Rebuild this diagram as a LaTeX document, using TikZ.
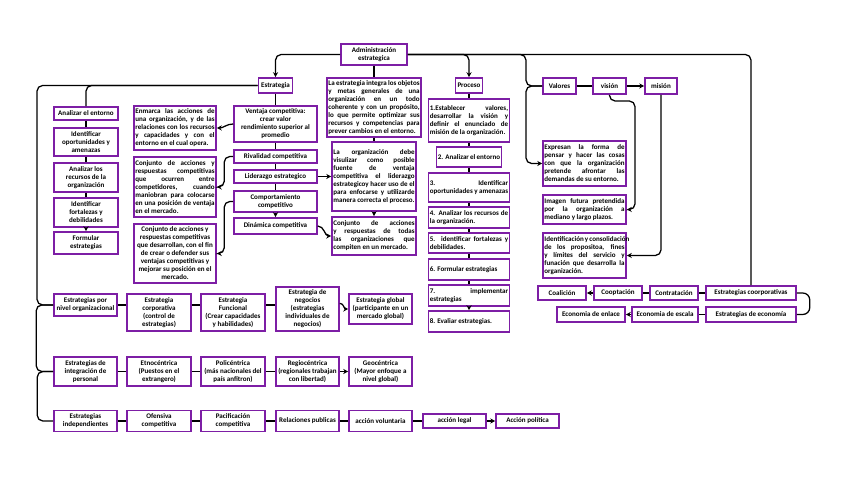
\documentclass[tikz,border=0pt]{standalone}
\usepackage{fontspec}
\setmainfont{Carlito}
\usetikzlibrary{arrows.meta,shadows}

\definecolor{boxpurple}{RGB}{125,30,165}
\newcommand{\mapfont}{\fontsize{5.0}{5.7}\selectfont\bfseries\hyphenpenalty=10000\tolerance=9999\emergencystretch=1em}

\tikzset{
    mapbox/.style={draw=boxpurple, line width=1.1pt, fill=white, inner sep=1pt,
        align=center, font=\mapfont,
        drop shadow={shadow xshift=0.6pt, shadow yshift=-0.6pt, opacity=0.25}},
    jbox/.style={mapbox, align=justify},
    boxsize/.style 2 args={minimum width=#1*0.025cm, minimum height=#2*0.025cm},
    wrapsize/.style 2 args={boxsize={#1}{#2}, text width=#1*0.025cm-2pt},
    link/.style={line width=0.9pt},
    arr/.style={link, -{Stealth[length=3.5pt, width=3.5pt]}},
}

\begin{document}
\begin{tikzpicture}[x=0.025cm, y=-0.025cm]
    \fill[white] (0,0) rectangle (848,477);
    \useasboundingbox (0,0) rectangle (848,477);

    % cabecera
    \node[mapbox, boxsize={66}{21}] (admin) at (374,54.5) {Administración\\estrategica};
    \node[jbox, wrapsize={94}{59}] (integra) at (374,107.5) {La estrategia integra los objetos y metas generales de una organización en un todo coherente y con un propósito, lo que permite optimizar sus recursos y competencias para prever cambios en el entorno.};
    \node[jbox, wrapsize={84}{69}] (visualizar) at (374,176.5) {La organización debe visulizar como posible fuente de ventaja competitiva el liderazgo estrategicoy hacer uso de el para enfocarse y utilizarde manera correcta el proceso.};
    \node[jbox, wrapsize={84}{38}] (todas) at (374,236) {Conjunto de acciones y respuestas de todas las organizaciones que compiten en un mercado.};

    % estrategia
    \node[mapbox, boxsize={34}{15}] (estrategia) at (275.5,85.5) {Estrategia};
    \node[mapbox, boxsize={83}{36}] (ventaja) at (275.5,124) {Ventaja competitiva:\\crear valor\\rendimiento superior al\\promedio};
    \node[mapbox, boxsize={83}{13}] (rivalidad) at (275.5,156.5) {Rivalidad competitiva};
    \node[mapbox, boxsize={83}{13}] (liderazgo) at (275.5,176.5) {Liderazgo estrategico};
    \node[mapbox, boxsize={83}{21}] (comport) at (275.5,201.5) {Comportamiento\\competitivo};
    \node[mapbox, boxsize={83}{16}] (dinamica) at (275.5,226) {Dinámica competitiva};

    \node[jbox, wrapsize={82}{44}] (enmarca) at (175,128) {Enmarca las acciones de una organización, y de las relaciones con los recursos y capacidades y con el entorno en el cual opera.};
    \node[jbox, wrapsize={82}{60}] (conj1) at (175,187) {Conjunto de acciones y respuestas competitivas que ocurren entre competidores, cuando maniobran para colocarse en una posición de ventaja en el mercado.};
    \node[mapbox, boxsize={82}{59}] (conj2) at (175,253.5) {Conjunto de acciones y\\respuestas competitivas\\que desarrollan, con el fin\\de crear o defender sus\\ventajas competitivas y\\mejorar su posición en el\\mercado.};

    \node[mapbox, boxsize={64}{13}] (aentorno) at (86,113.5) {Analizar el entorno};
    \node[mapbox, boxsize={64}{28}] (aoport) at (86,142) {Identificar\\oportunidades y\\amenazas};
    \node[mapbox, boxsize={64}{29}] (arecursos) at (86,177.5) {Analizar los\\recursos de la\\organización};
    \node[mapbox, boxsize={64}{29}] (afortalezas) at (86,212.5) {Identificar\\fortalezas y\\debilidades};
    \node[mapbox, boxsize={64}{22}] (aformular) at (86,243) {Formular\\estrategias};

    % proceso
    \node[mapbox, boxsize={27}{15}] (proceso) at (469,85.5) {Proceso};
    \node[jbox, wrapsize={81}{43}] (p1) at (469,120.5) {1.Establecer valores, desarrollar la visión y definir el enunciado de misión de la organización.};
    \node[jbox, wrapsize={65}{20}] (p2) at (469,157) {2. Analizar el entorno};
    \node[jbox, wrapsize={81}{29}] (p3) at (469,187.5) {3. Identificar oportunidades y amenazas};
    \node[jbox, wrapsize={81}{21}] (p4) at (469,217.5) {4. Analizar los recursos de la organización.};
    \node[jbox, wrapsize={81}{20}] (p5) at (469,243) {5. identificar fortalezas y debilidades.};
    \node[jbox, wrapsize={81}{21}] (p6) at (469,269.5) {6. Formular estrategias};
    \node[jbox, wrapsize={81}{21}] (p7) at (469,295.5) {7. implementar\linebreak estrategias};
    \node[jbox, wrapsize={81}{21}] (p8) at (469,321.5) {8. Evaliar estrategias.};

    % valores, vision, mision
    \node[mapbox, boxsize={33}{16}] (valores) at (559.5,86) {Valores};
    \node[mapbox, boxsize={33}{16}] (vision) at (609.5,86) {visión};
    \node[mapbox, boxsize={32}{16}] (mision) at (661,86) {misión};
    \node[jbox, wrapsize={83}{45}] (expresan) at (584.5,163.5) {Expresan la forma de pensar y hacer las cosas con que la organización pretende afrontar las demandas de su entorno.};
    \node[jbox, wrapsize={83}{29}] (imagen) at (584.5,209.5) {Imagen futura pretendida por la organización a mediano y largo plazos.};
    \node[jbox, wrapsize={83}{45}] (identific) at (584.5,255.5) {Identificación y consolidación de los propositoa, fines y límites del servicio y funación que desarrolla la organización.};

    \node[mapbox, boxsize={48}{14}] (coalicion) at (562,293) {Coalición};
    \node[mapbox, boxsize={48}{14}] (cooptacion) at (618,293) {Cooptación};
    \node[mapbox, boxsize={48}{14}] (contratacion) at (674,293) {Contratación};
    \node[mapbox, boxsize={90}{14}] (ecoorp) at (751,293) {Estrategias coorporativas};
    \node[mapbox, boxsize={68}{15}] (enlace) at (591,314.5) {Economia de enlace};
    \node[mapbox, boxsize={66}{15}] (escala) at (665,314.5) {Economia de escala};
    \node[mapbox, boxsize={90}{15}] (eeconomia) at (751,314.5) {Estrategias de economía};

    % filas inferiores
    \node[mapbox, boxsize={63}{22}] (pornivel) at (85.5,305) {Estrategias por\\nivel organizacional};
    \node[mapbox, boxsize={64}{37}] (corporativa) at (159,312.5) {Estrategia\\corporativa\\(control de\\estrategias)};
    \node[mapbox, boxsize={64}{37}] (funcional) at (233,312.5) {Estrategia\\Funcional\\(Crear capacidades\\y habilidades)};
    \node[mapbox, boxsize={63}{44}] (negocios) at (307.5,309) {Estrategia de\\negocios\\(estrategias\\individuales de\\negocios)};
    \node[mapbox, boxsize={63}{30}] (global) at (380.5,309) {Estrategia global\\(participante en un\\mercado global)};

    \node[mapbox, boxsize={63}{29}] (integracion) at (85.5,371.5) {Estrategias de\\integración de\\personal};
    \node[mapbox, boxsize={64}{29}] (etnocentrica) at (159,371.5) {Etnocéntrica\\(Puestos en el\\extrangero)};
    \node[mapbox, boxsize={64}{29}] (policentrica) at (233,371.5) {Policéntrica\\(más nacionales del\\país anfitron)};
    \node[mapbox, boxsize={63}{29}] (regiocentrica) at (307.5,371.5) {Regiocéntrica\\(regionales trabajan\\con libertad)};
    \node[mapbox, boxsize={63}{29}] (geocentrica) at (380.5,371.5) {Geocéntrica\\(Mayor enfoque a\\nivel global)};

    \node[mapbox, boxsize={63}{21}] (independientes) at (85.5,421) {Estrategias\\independientes};
    \node[mapbox, boxsize={64}{21}] (ofensiva) at (159,421) {Ofensiva\\competitiva};
    \node[mapbox, boxsize={64}{21}] (pacificacion) at (233,421) {Pacificación\\competitiva};
    \node[mapbox, boxsize={63}{21}] (relaciones) at (307.5,421) {Relaciones publicas};
    \node[mapbox, boxsize={63}{21}] (voluntaria) at (380.5,421) {acción voluntaria};
    \node[mapbox, boxsize={63}{14}] (legal) at (454.5,421) {acción legal};
    \node[mapbox, boxsize={63}{14}] (politica) at (527.5,421) {Acción política};

    % puntos de quiebre
    \coordinate (vbrace) at (526,86);
    \coordinate (lrail) at (37,305);
    \coordinate (vbend) at (635,101);

    % conectores de la cabecera
    \draw[arr, rounded corners=4pt] (admin.west) -| (estrategia.north);
    \draw[link, rounded corners=4pt] (admin.east) -| (ecoorp.north);
    \draw[arr, rounded corners=4pt] (admin.east) -| (proceso.north);
    \draw[link, rounded corners=4pt] (admin.east) -| (vbrace) -- (valores.west);
    \draw[arr, rounded corners=4pt] (valores.west) -| (vbrace |- expresan.west) -- (expresan.west);
    \draw[link] (admin) -- (integra);
    \draw[link] (integra) -- (visualizar);
    \draw[arr] (visualizar) -- (todas);

    % estrategia
    \draw[link, rounded corners=4pt] (estrategia.west) -| (lrail) -- (pornivel.west);
    \draw[link, rounded corners=4pt] (estrategia.west) -| (aentorno.north);
    \foreach \a/\b in {aentorno/aoport, aoport/arecursos, arecursos/afortalezas}
        \draw[link] (\a) -- (\b);
    \draw[arr] (afortalezas) -- (aformular);
    \foreach \a/\b in {estrategia/ventaja, ventaja/rivalidad, rivalidad/liderazgo, liderazgo/comport}
        \draw[link] (\a) -- (\b);
    \draw[arr] (comport) -- (dinamica);
    \draw[arr] (ventaja.west) to[out=180, in=0] (enmarca.east);
    \draw[arr, rounded corners=4pt] (rivalidad.west) -- ++(-9,0) |- (conj1.east);
    \draw[arr, rounded corners=4pt] (comport.west) -- ++(-9,0) |- (conj2.east);
    \draw[arr] (liderazgo) -- (visualizar);
    \draw[arr] (dinamica.east) to[out=0, in=180] (todas.west);

    % proceso
    \foreach \a/\b in {proceso/p1, p1/p2, p2/p3, p3/p4, p4/p5, p5/p6, p6/p7}
        \draw[link] (\a) -- (\b);
    \draw[arr] (p7) -- (p8);

    % valores, vision, mision
    \draw[link] (valores) -- (vision);
    \draw[arr] (vision) -- (mision);
    \draw[arr, rounded corners=4pt] (vision.south) |- (vbend) |- (imagen.east);
    \draw[arr, rounded corners=4pt] (mision.south) |- (identific.east);
    \draw[link] (ecoorp) -- (contratacion);
    \draw[link] (contratacion) -- (cooptacion);
    \draw[arr] (cooptacion) -- (coalicion);
    \draw[link, rounded corners=5pt] (ecoorp.east) -- ++(13,0) |- (eeconomia.east);
    \draw[link] (eeconomia) -- (escala);
    \draw[arr] (escala) -- (enlace);

    % filas inferiores
    \draw[link, rounded corners=4pt] (pornivel.west) -- ++(-17,0) |- (integracion.west);
    \draw[link, rounded corners=4pt] (integracion.west) -- ++(-16,0) |- (independientes.west);
    \foreach \a/\b in {pornivel/corporativa, corporativa/funcional, funcional/negocios}
        \draw[link] (\a.east |- pornivel) -- (\b.west |- pornivel);
    \draw[arr] ([yshift=4pt]negocios.east) to[out=0, in=180] (global.west);
    \foreach \a/\b in {integracion/etnocentrica, etnocentrica/policentrica, policentrica/regiocentrica}
        \draw[link] (\a) -- (\b);
    \draw[arr] (regiocentrica) -- (geocentrica);
    \foreach \a/\b in {independientes/ofensiva, ofensiva/pacificacion, pacificacion/relaciones, relaciones/voluntaria, voluntaria/legal}
        \draw[link] (\a) -- (\b);
    \draw[arr] (legal) -- (politica);
\end{tikzpicture}
\end{document}
